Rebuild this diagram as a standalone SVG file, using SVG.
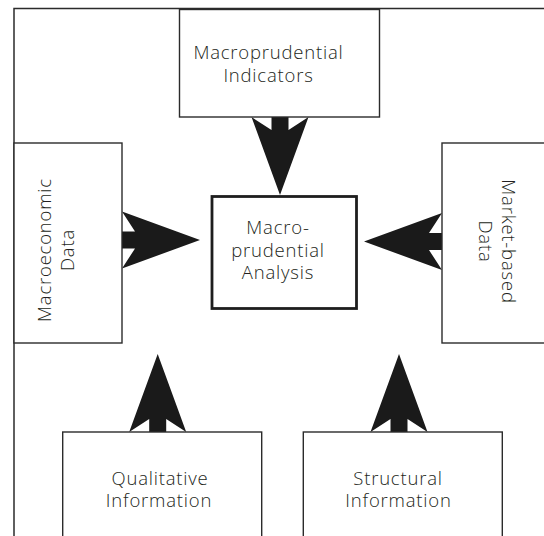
<svg xmlns="http://www.w3.org/2000/svg" xmlns:xlink="http://www.w3.org/1999/xlink" width="544" height="536" viewBox="0 0 544 536">
  <style>
    .box { fill: #ffffff; stroke: #2b2b2b; stroke-width: 1.4; }
    .main { fill: #ffffff; stroke: #1e1e1e; stroke-width: 2.8; }
    .frame { fill: none; stroke: #2b2b2b; stroke-width: 1.5; }
    .lbl { font-family: "Open Sans", "Noto Sans", "Liberation Sans", sans-serif; font-size: 18.5px; font-weight: 300; letter-spacing: 0.8px; fill: #231f20; text-anchor: middle; }
    .arrow { fill: #1a1a1a; }
  </style>
  <defs>
    <path id="arr" d="M -8.5 0 L -8.5 -13 L -28.5 0 L 0 -78 L 28.5 0 L 8.5 -13 L 8.5 0 Z"/>
  </defs>
  <rect x="0" y="0" width="544" height="536" fill="#ffffff"/>
  <rect class="frame" x="14" y="8.5" width="600" height="600"/>

  <g id="connectors" class="arrow">
    <use xlink:href="#arr" href="#arr" transform="translate(280,117) rotate(180)"/>
    <use xlink:href="#arr" href="#arr" transform="translate(122,240) rotate(90)"/>
    <use xlink:href="#arr" href="#arr" transform="translate(442,241.5) rotate(-90)"/>
    <use xlink:href="#arr" href="#arr" transform="translate(157.7,432)"/>
    <use xlink:href="#arr" href="#arr" transform="translate(399,432)"/>
  </g>

  <g id="macroprudential-indicators">
    <rect class="box" x="179.5" y="9.5" width="200" height="107.5"/>
    <text class="lbl" x="268.5" y="59.2">Macroprudential</text>
    <text class="lbl" x="268.5" y="81.8">Indicators</text>
  </g>

  <g id="macroprudential-analysis">
    <rect class="main" x="212" y="196.5" width="144.5" height="112"/>
    <text class="lbl" x="278" y="234.1">Macro-</text>
    <text class="lbl" x="278" y="256.7">prudential</text>
    <text class="lbl" x="278" y="279.3">Analysis</text>
  </g>

  <g id="macroeconomic-data">
    <rect class="box" x="14" y="143" width="108" height="200"/>
    <text class="lbl" transform="translate(51.2,250) rotate(-90)">Macroeconomic</text>
    <text class="lbl" transform="translate(73.8,250) rotate(-90)">Data</text>
  </g>

  <g id="market-based-data">
    <rect class="box" x="442" y="143" width="200" height="200"/>
    <text class="lbl" transform="translate(501.9,241.5) rotate(90)">Market-based</text>
    <text class="lbl" transform="translate(479.3,241.5) rotate(90)">Data</text>
  </g>

  <g id="qualitative-information">
    <rect class="box" x="62.7" y="432" width="199" height="200"/>
    <text class="lbl" x="160" y="484.5">Qualitative</text>
    <text class="lbl" x="159" y="507.1">Information</text>
  </g>

  <g id="structural-information">
    <rect class="box" x="303.3" y="432" width="199" height="200"/>
    <text class="lbl" x="398" y="484.5">Structural</text>
    <text class="lbl" x="398.5" y="507.1">Information</text>
  </g>
</svg>
